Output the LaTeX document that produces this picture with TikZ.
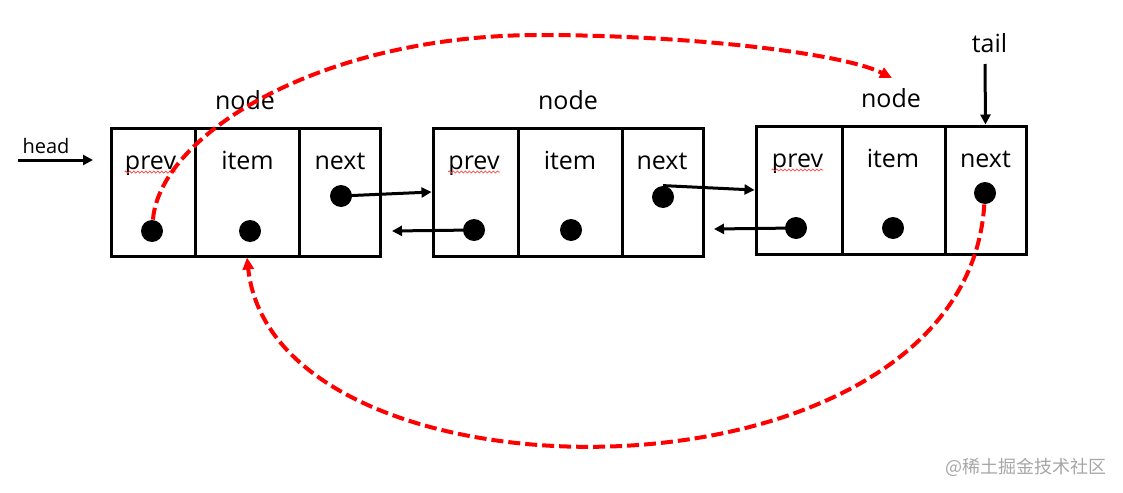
\documentclass[tikz,border=0pt]{standalone}
\usepackage{fontspec}
\setmainfont{Open Sans}
\newfontfamily\cjk{Noto Sans CJK SC}
\usepackage{tikz}
\usetikzlibrary{arrows.meta,calc,positioning,decorations.pathmorphing}

\begin{document}
\begin{tikzpicture}[x = 0.5pt, y = -0.5pt]
	\tikzstyle{cell} = [draw = black, line width = 1.5pt, minimum height = 64pt, inner sep = 0pt]
	\tikzstyle{dot} = [circle, fill = black, minimum size = 11pt, inner sep = 0pt]
	\tikzstyle{txt} = [font = \fontsize{12.5}{15}\selectfont, inner sep = 0pt, anchor = base]
	\tikzstyle{ptr} = [-{Triangle[length = 5pt, width = 5pt]}, line width = 1.5pt]
	\tikzstyle{link} = [-{Triangle[length = 6pt, width = 5.5pt]}, red, line width = 2pt, dash pattern = on 6pt off 2.5pt]
	\tikzstyle{squiggle} = [red!70, line width = 0.4pt, decorate, decoration = {snake, amplitude = 0.5pt, segment length = 2pt}]

\useasboundingbox (0, 0) rectangle (1123, 492);

% first node
\node[cell, minimum width = 42pt] (p1) at (153, 192) {};
\node[cell, minimum width = 52pt] (i1) at (247, 192) {};
\node[cell, minimum width = 40.5pt] (n1) at (339.5, 192) {};
% second node
\node[cell, minimum width = 42.5pt] (p2) at (475.5, 192) {};
\node[cell, minimum width = 52pt] (i2) at (570, 192) {};
\node[cell, minimum width = 40.5pt] (n2) at (662.5, 192) {};
% third node
\node[cell, minimum width = 43pt] (p3) at (799, 190) {};
\node[cell, minimum width = 51.5pt] (i3) at (893.5, 190) {};
\node[cell, minimum width = 40.5pt] (n3) at (985.5, 190) {};

    \node[txt] (tp1) at (150.5, 169) {prev};
    \node[txt] (ti1) at (247.5, 169) {item};
    \node[txt] (tn1) at (340, 169) {next};
    \node[txt] (tp2) at (474, 169) {prev};
    \node[txt] (ti2) at (570, 169) {item};
    \node[txt] (tn2) at (662, 169) {next};
    \node[txt] (tp3) at (797.5, 167) {prev};
    \node[txt] (ti3) at (893, 167) {item};
    \node[txt] (tn3) at (985.5, 167) {next};

    \node[txt] (node1) at (245, 110) {node};
    \node[txt] (node2) at (568, 110) {node};
    \node[txt] (node3) at (891, 107) {node};
    \node[txt] (tail) at (989.5, 53) {tail};
    \node[txt, font = \fontsize{10}{12}\selectfont] (head) at (46, 154) {head};

    \draw[squiggle] ([yshift = -1.5pt]tp1.base west) -- ([yshift = -1.5pt]tp1.base east);
    \draw[squiggle] ([yshift = -1.5pt]tp2.base west) -- ([yshift = -1.5pt]tp2.base east);
    \draw[squiggle] ([yshift = -1.5pt]tp3.base west) -- ([yshift = -1.5pt]tp3.base east);

\node[dot] (dp1) at (152, 231) {};
\node[dot] (di1) at (250, 231) {};
\node[dot] (dn1) at (341, 196) {};
\node[dot] (dp2) at (474, 230) {};
\node[dot] (di2) at (571, 230) {};
\node[dot] (dn2) at (663, 197) {};
\node[dot] (dp3) at (796, 228) {};
\node[dot] (di3) at (893, 228) {};
\node[dot] (dn3) at (985, 193) {};

\coordinate (h0) at (18, 160);
\coordinate (h1) at (93, 160);
\coordinate (t0) at (985, 64);
\coordinate (b2) at (392, 231);
\coordinate (b3) at (714, 229);
\coordinate (top) at (540, 35);
\coordinate (r1) at (892, 78);

	\path[draw, ptr] (h0) -- (h1);
	\path[draw, ptr] (t0) -- (n3.north);
	\path[draw, ptr] (dn1.center) -- (p2.west);
	\path[draw, ptr] (dn2.north) -- (p3.west);
	\path[draw, ptr] (dp2.center) -- (b2);
	\path[draw, ptr] (dp3.center) -- (b3);

	\draw[link] (dp1) .. controls (160, 135) and (320, 35) .. (top) .. controls (680, 35) and (840, 52) .. (r1);
	\draw[link] (dn3) .. controls (965, 516) and (275, 516) .. (i1.south);

    \node[txt, font = \cjk\fontsize{9}{11}\selectfont, text = black!35] (mark) at (1026, 473) {@稀土掘金技术社区};
	\end{tikzpicture}
\end{document}
